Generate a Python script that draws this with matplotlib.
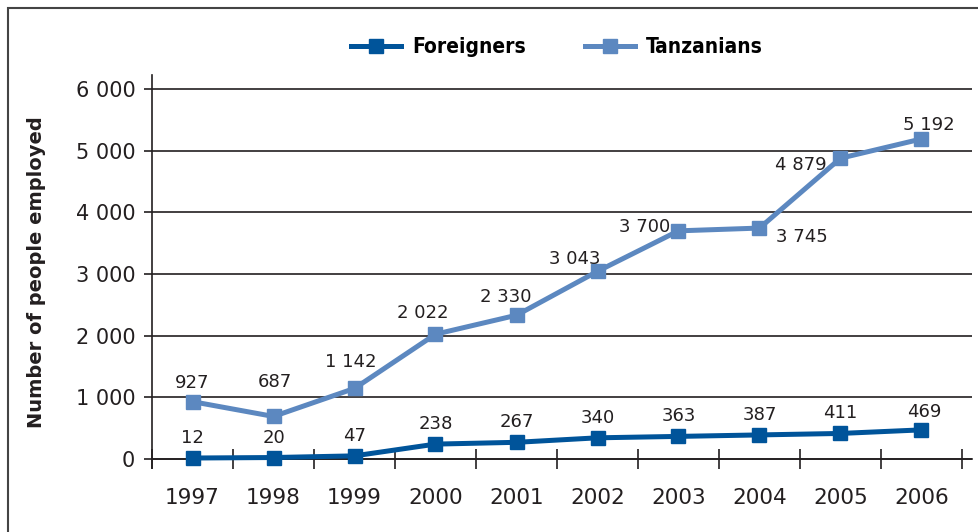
import numpy as np
import matplotlib.pyplot as plt
from matplotlib.patches import Rectangle
from matplotlib.ticker import FixedLocator

years = ["1997", "1998", "1999", "2000", "2001", "2002", "2003", "2004", "2005", "2006"]
foreigners = [12, 20, 47, 238, 267, 340, 363, 387, 411, 469]
tanzanians = [927, 687, 1142, 2022, 2330, 3043, 3700, 3745, 4879, 5192]
y_ticks = [0, 1000, 2000, 3000, 4000, 5000, 6000]
y_tick_labels = ["0", "1 000", "2 000", "3 000", "4 000", "5 000", "6 000"]

# label offsets in pixels (dx, dy) from each point
tz_offsets = [(0, 19), (1, 34), (-4, 26), (-13, 21), (-11, 18), (-23, 12),
              (-34, 4), (42, -9), (-40, -7), (7, 14)]
fr_offsets = [(0, 20)] * 9 + [(3, 18)]

DARK = "#00549A"
LIGHT = "#5C88C0"
INK = "#231f20"

plt.rcParams["font.family"] = ["DejaVu Sans"]

fig = plt.figure(figsize=(9.79, 5.32), dpi=100)
ax = fig.add_axes([152 / 979, 1 - 468 / 532, 820 / 979, 393 / 532])

# outer frame (only left and top edges are in view)
fig.patches.append(Rectangle((8 / 979, -0.5), 2, 1.5 - 8 / 532, transform=fig.transFigure,
                             fill=False, edgecolor="#444444", linewidth=1.5))

x = np.arange(len(years))
ax.plot(x, foreigners, color=DARK, lw=3.6, marker="s", ms=10, label="Foreigners", zorder=4)
ax.plot(x, tanzanians, color=LIGHT, lw=3.6, marker="s", ms=10, label="Tanzanians", zorder=3)

def fmt(v):
    return f"{v:,}".replace(",", " ")

for xi, v, (dx, dy) in zip(x, tanzanians, tz_offsets):
    ax.annotate(fmt(v), (xi, v), xytext=(dx, dy), textcoords="offset pixels",
                ha="center", va="center", fontsize=13, color=INK, zorder=5)
for xi, v, (dx, dy) in zip(x, foreigners, fr_offsets):
    ax.annotate(fmt(v), (xi, v), xytext=(dx, dy), textcoords="offset pixels",
                ha="center", va="center", fontsize=13, color=INK, zorder=5)

ax.set_xlim(-0.5, 9.5 + 10 / 81)
ax.set_ylim(-150, 6230)

ax.set_yticks(y_ticks)
ax.set_yticklabels(y_tick_labels)
ax.yaxis.grid(True, color=INK, lw=1.2)
ax.set_axisbelow(True)
ax.tick_params(axis="y", direction="out", length=6, width=1.2, color=INK, pad=6,
               labelsize=15, labelcolor=INK)

ax.set_xticks(x)
ax.set_xticklabels(years)
ax.xaxis.set_minor_locator(FixedLocator(np.arange(-0.5, 10, 1)))
ax.tick_params(axis="x", which="major", length=0, pad=21, labelsize=15.5, labelcolor=INK)
ax.tick_params(axis="x", which="minor", direction="inout", length=14, width=1.2, color=INK)

for side in ["top", "right"]:
    ax.spines[side].set_visible(False)
ax.spines["bottom"].set_position(("data", 0))
for side in ["left", "bottom"]:
    ax.spines[side].set_color(INK)
    ax.spines[side].set_linewidth(1.2)

fig.text(37 / 979, 1 - 272 / 532, "Number of people employed", rotation=90,
         ha="center", va="center", fontsize=14, fontweight="bold", color=INK)

fig.legend(loc="center", bbox_to_anchor=(557 / 979, 1 - 47 / 532), ncol=2, frameon=False,
           handlelength=2.4, handletextpad=0.55, columnspacing=2.8,
           prop={"family": "DejaVu Sans", "weight": "bold", "size": 15, "stretch": "condensed"})

fig.savefig("out.png", dpi=100)
